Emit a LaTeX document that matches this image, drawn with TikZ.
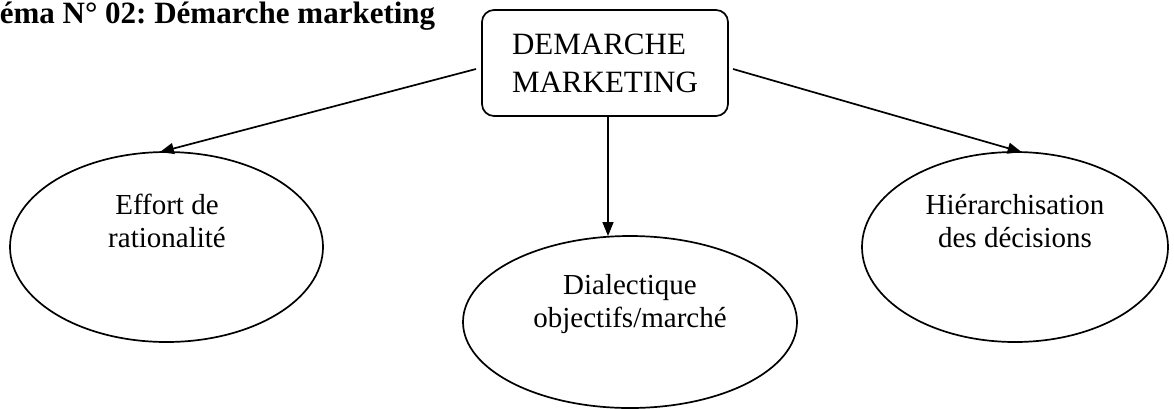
\documentclass[tikz,border=0pt]{standalone}
\usepackage{fontspec}
\setmainfont{Liberation Serif}
\usetikzlibrary{arrows.meta,shapes.geometric}
\frenchspacing
\begin{document}
\begin{tikzpicture}[x=1pt,y=-1pt,
  line width=1.7pt,
  ovalbox/.style={draw, ellipse, inner sep=0pt, outer sep=0pt},
  ovaltext/.style={font=\fontsize{29}{33}\selectfont, align=center, inner sep=0pt, anchor=base},
  arr/.style={-{Triangle[length=14pt,width=11pt]}},
  headbox/.style={draw, rounded corners=12pt, inner sep=0pt, align=left,
    minimum width=246pt, minimum height=106pt, font=\fontsize{31}{38}\selectfont}]
\useasboundingbox (0,0) rectangle (1174,408);
\node[anchor=base west, inner sep=0pt, font=\fontsize{31}{33}\selectfont\bfseries] (title) at (-1,23) {éma N° 02: Démarche marketing};
\node[headbox] (b) at (605,63) {DEMARCHE\\MARKETING};
\node[ovalbox, minimum width=313pt, minimum height=190pt] (e1) at (166.5,247) {};
\node[ovalbox, minimum width=306pt, minimum height=190pt] (e3) at (1015,247) {};
\node[ovalbox, minimum width=334pt, minimum height=172pt] (e2) at (630,322) {};
\node[ovaltext] (t1) at (167,247) {Effort de\\rationalité};
\node[ovaltext] (t3) at (1015,247) {Hiérarchisation\\des décisions};
\node[ovaltext] (t2) at (630,327) {Dialectique\\objectifs/marché};
\coordinate (ls) at (476,69);
\coordinate (rs) at (733,69);
\coordinate (vs) at (608,116);
\draw[arr] (ls) -- (e1.94);
\draw[arr] (rs) -- (e3.86);
\draw[arr] (vs) -- (vs |- e2.north);
\end{tikzpicture}
\end{document}
